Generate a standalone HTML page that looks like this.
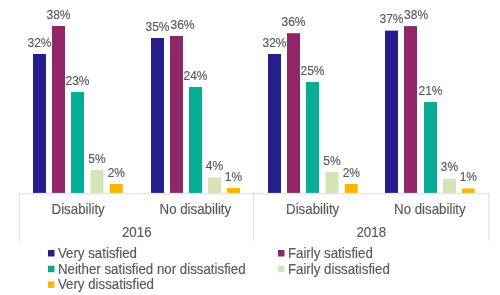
<!DOCTYPE html>
<html><head><meta charset="utf-8"><style>
html,body{margin:0;padding:0;background:#fff;width:500px;height:295px;overflow:hidden}
svg{display:block;will-change:transform}
text{font-family:"Liberation Sans",sans-serif;fill:#595959;stroke:#595959;stroke-width:0.15px}
.v{font-size:12px;text-anchor:middle}
.c{font-size:13.3px;text-anchor:middle}
.l{font-size:13.3px}
</style></head><body>
<svg width="500" height="295" viewBox="0 0 500 295">
<rect x="33.00" y="54.00" width="13" height="139.00" fill="#241f8d"/>
<text transform="translate(39.50,46.55) scale(1,1.07)" class="v">32%</text>
<rect x="52.00" y="26.00" width="13" height="167.00" fill="#8e2667"/>
<text transform="translate(58.50,18.55) scale(1,1.07)" class="v">38%</text>
<rect x="71.00" y="92.00" width="13" height="101.00" fill="#05ad97"/>
<text transform="translate(77.50,84.55) scale(1,1.07)" class="v">23%</text>
<rect x="90.50" y="170.00" width="13" height="23.00" fill="#d6e4b6"/>
<text transform="translate(97.00,162.55) scale(1,1.07)" class="v">5%</text>
<rect x="109.80" y="184.00" width="13" height="9.00" fill="#ffb400"/>
<text transform="translate(116.30,176.55) scale(1,1.07)" class="v">2%</text>
<rect x="151.00" y="38.00" width="13" height="155.00" fill="#241f8d"/>
<text transform="translate(157.50,30.55) scale(1,1.07)" class="v">35%</text>
<rect x="170.00" y="36.00" width="13" height="157.00" fill="#8e2667"/>
<text transform="translate(182.50,28.55) scale(1,1.07)" class="v">36%</text>
<rect x="189.00" y="87.00" width="13" height="106.00" fill="#05ad97"/>
<text transform="translate(195.50,79.55) scale(1,1.07)" class="v">24%</text>
<rect x="208.00" y="177.50" width="13" height="15.50" fill="#d6e4b6"/>
<text transform="translate(214.50,170.05) scale(1,1.07)" class="v">4%</text>
<rect x="227.00" y="188.00" width="13" height="5.00" fill="#ffb400"/>
<text transform="translate(233.50,180.55) scale(1,1.07)" class="v">1%</text>
<rect x="268.00" y="54.00" width="13" height="139.00" fill="#241f8d"/>
<text transform="translate(274.50,46.55) scale(1,1.07)" class="v">32%</text>
<rect x="287.00" y="33.20" width="13" height="159.80" fill="#8e2667"/>
<text transform="translate(293.50,25.75) scale(1,1.07)" class="v">36%</text>
<rect x="306.00" y="82.00" width="13" height="111.00" fill="#05ad97"/>
<text transform="translate(312.50,74.55) scale(1,1.07)" class="v">25%</text>
<rect x="325.50" y="172.00" width="13" height="21.00" fill="#d6e4b6"/>
<text transform="translate(332.00,164.55) scale(1,1.07)" class="v">5%</text>
<rect x="344.80" y="184.00" width="13" height="9.00" fill="#ffb400"/>
<text transform="translate(351.30,176.55) scale(1,1.07)" class="v">2%</text>
<rect x="385.00" y="30.60" width="13" height="162.40" fill="#241f8d"/>
<text transform="translate(391.50,23.15) scale(1,1.07)" class="v">37%</text>
<rect x="404.00" y="26.10" width="13" height="166.90" fill="#8e2667"/>
<text transform="translate(416.10,18.65) scale(1,1.07)" class="v">38%</text>
<rect x="424.00" y="102.00" width="13" height="91.00" fill="#05ad97"/>
<text transform="translate(430.50,94.55) scale(1,1.07)" class="v">21%</text>
<rect x="443.00" y="178.80" width="13" height="14.20" fill="#d6e4b6"/>
<text transform="translate(449.50,171.35) scale(1,1.07)" class="v">3%</text>
<rect x="461.80" y="188.50" width="13" height="4.50" fill="#ffb400"/>
<text transform="translate(468.30,181.05) scale(1,1.07)" class="v">1%</text>
<rect x="18.8" y="192.9" width="470.4" height="1.5" fill="#e5e5e5"/>
<rect x="18.8" y="192.9" width="1.5" height="48" fill="#e5e5e5"/>
<rect x="252.9" y="192.9" width="1.5" height="48" fill="#e5e5e5"/>
<rect x="488.1" y="192.9" width="1.5" height="48" fill="#e5e5e5"/>
<text transform="translate(78.12,213.60) scale(1,1.07)" class="c">Disability</text>
<text transform="translate(195.38,213.60) scale(1,1.07)" class="c">No disability</text>
<text transform="translate(312.62,213.60) scale(1,1.07)" class="c">Disability</text>
<text transform="translate(429.88,213.60) scale(1,1.07)" class="c">No disability</text>
<text transform="translate(136.75,237.40) scale(1,1.07)" class="c">2016</text>
<text transform="translate(371.25,237.40) scale(1,1.07)" class="c">2018</text>
<rect x="48" y="250" width="6.5" height="6.5" fill="#241f8d"/>
<text transform="translate(57.90,257.80) scale(1,1.07)" class="l">Very satisfied</text>
<rect x="278" y="250" width="6.5" height="6.5" fill="#8e2667"/>
<text transform="translate(287.90,257.80) scale(1,1.07)" class="l">Fairly satisfied</text>
<rect x="48" y="265.7" width="6.5" height="6.5" fill="#05ad97"/>
<text transform="translate(57.90,273.50) scale(1,1.07)" class="l">Neither satisfied nor dissatisfied</text>
<rect x="278" y="265.7" width="6.5" height="6.5" fill="#d6e4b6"/>
<text transform="translate(287.90,273.50) scale(1,1.07)" class="l">Fairly dissatisfied</text>
<rect x="48" y="281.4" width="6.5" height="6.5" fill="#ffb400"/>
<text transform="translate(57.90,289.20) scale(1,1.07)" class="l">Very dissatisfied</text>
</svg>
</body></html>
